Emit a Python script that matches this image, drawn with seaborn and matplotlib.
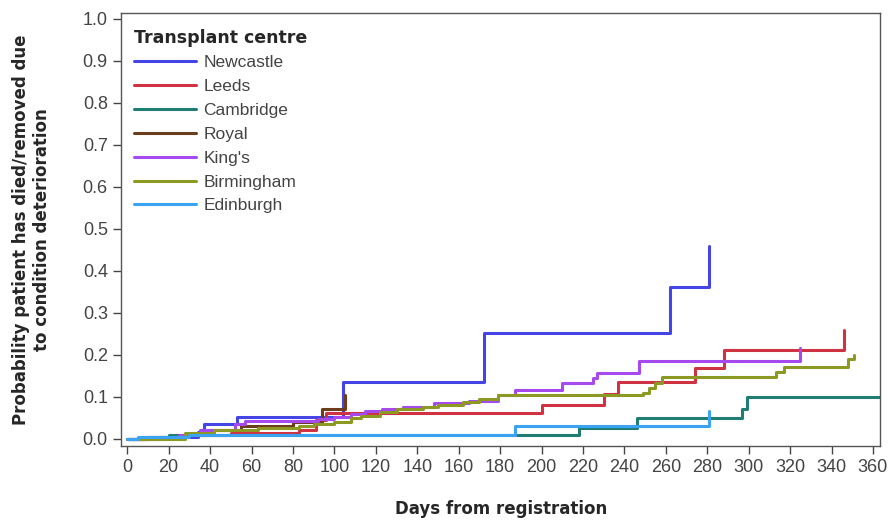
import matplotlib
matplotlib.use("Agg")
import matplotlib.pyplot as plt
import seaborn as sns
import pandas as pd

centres = ["Newcastle", "Leeds", "Cambridge", "Royal", "King's", "Birmingham", "Edinburgh"]
colors = ["#4545e6", "#cf3342", "#1f7d74", "#6b3d1c", "#a64af0", "#8c9a24", "#3aa4f2"]

newcastle_t = [0, 10, 34, 37, 53, 104, 172, 262, 281]
newcastle_p = [0, 0.005, 0.017, 0.036, 0.052, 0.135, 0.252, 0.362, 0.46]

leeds_t = [0, 15, 30, 50, 83, 91, 96, 200, 230, 237, 274, 288, 346]
leeds_p = [0, 0.005, 0.01, 0.015, 0.021, 0.045, 0.062, 0.081, 0.107, 0.136, 0.169, 0.212, 0.258]

cambridge_t = [0, 8, 20, 218, 246, 297, 299, 365]
cambridge_p = [0, 0.004, 0.009, 0.026, 0.05, 0.07, 0.1, 0.1]

royal_t = [0, 10, 25, 40, 55, 80, 94, 105]
royal_p = [0, 0.005, 0.01, 0.02, 0.03, 0.04, 0.071, 0.105]

kings_t = [0, 15, 25, 35, 52, 57, 92, 100, 108, 115, 123, 133, 148, 165, 179, 187, 210, 225, 227, 247, 325]
kings_p = [0, 0.005, 0.01, 0.02, 0.035, 0.042, 0.047, 0.053, 0.06, 0.066, 0.072, 0.077, 0.085, 0.09,
           0.105, 0.117, 0.133, 0.145, 0.157, 0.185, 0.217]

birm_t = [0, 28, 42, 63, 83, 90, 100, 108, 113, 122, 130, 143, 150, 162, 170, 179, 249, 252, 255, 258,
          313, 317, 348, 351]
birm_p = [0, 0.014, 0.021, 0.026, 0.03, 0.035, 0.04, 0.05, 0.055, 0.063, 0.07, 0.075, 0.08, 0.087, 0.094,
          0.105, 0.11, 0.121, 0.133, 0.148, 0.16, 0.171, 0.19, 0.2]

edin_t = [0, 5, 30, 187, 281]
edin_p = [0, 0.004, 0.008, 0.031, 0.067]

x_ticks = list(range(0, 361, 20))
y_ticks = [i / 10 for i in range(11)]

series = {
    "Newcastle": (newcastle_t, newcastle_p),
    "Leeds": (leeds_t, leeds_p),
    "Cambridge": (cambridge_t, cambridge_p),
    "Royal": (royal_t, royal_p),
    "King's": (kings_t, kings_p),
    "Birmingham": (birm_t, birm_p),
    "Edinburgh": (edin_t, edin_p),
}
rows = []
for c in centres:
    t, p = series[c]
    for ti, pi in zip(t, p):
        rows.append({"days": ti, "prob": pi, "centre": c})
df = pd.DataFrame(rows)

sns.set_theme(style="ticks")
plt.rcParams["font.family"] = ["Liberation Sans", "DejaVu Sans"]

fig = plt.figure(figsize=(8.9, 5.21), dpi=100)
ax = fig.add_axes([0.136, 0.144, 0.853, 0.831])

sns.lineplot(data=df, x="days", y="prob", hue="centre", hue_order=centres,
             palette=colors, estimator=None, sort=False, drawstyle="steps-post",
             linewidth=2.2, ax=ax)

ax.set_xlim(-3, 363.5)
ax.set_ylim(-0.017, 1.014)
ax.set_xticks(x_ticks)
ax.set_yticks(y_ticks)
ax.set_xticklabels([str(v) for v in x_ticks])
ax.set_yticklabels([f"{v:.1f}" for v in y_ticks])
ax.tick_params(axis="both", direction="out", length=6, width=1, color="#444444",
               labelsize=13, labelcolor="#444444")
for s in ax.spines.values():
    s.set_color("#555555")
    s.set_linewidth(1)

ax.set_xlabel("Days from registration", fontsize=12, fontweight="bold",
              family="DejaVu Sans", labelpad=17)
ax.set_ylabel("Probability patient has died/removed due\nto condition deterioration",
              fontsize=12, fontweight="bold", family="DejaVu Sans", labelpad=23)

leg = ax.legend(title="Transplant centre", loc="upper left", frameon=False,
                fontsize=12.5, title_fontproperties={"weight": "bold", "size": 12.5, "family": "DejaVu Sans"},
                handlelength=3.6, handletextpad=0.4, labelspacing=0.5,
                borderaxespad=0.55, bbox_to_anchor=(-0.005, 1.002))
leg._legend_box.align = "left"
for txt in leg.get_texts():
    txt.set_color("#444444")

fig.savefig("out.png", dpi=100)
